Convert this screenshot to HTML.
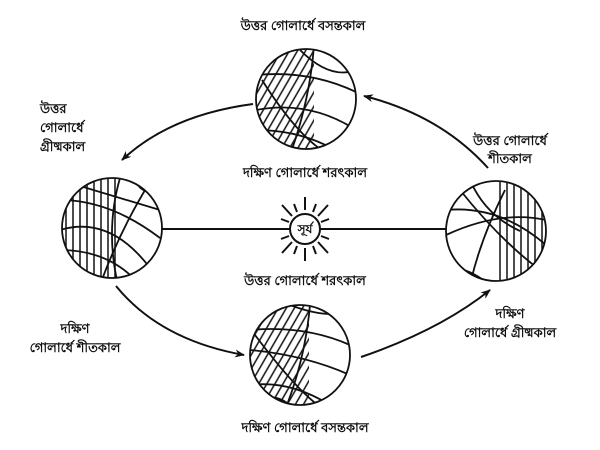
<!DOCTYPE html>
<html><head><meta charset="utf-8"><style>
html,body{margin:0;padding:0;background:#fff;width:600px;height:450px;overflow:hidden}
svg{display:block}
text{font-family:"Liberation Sans","Noto Sans CJK SC",sans-serif;font-size:13px;font-weight:bold;fill:#111}
</style></head><body>
<svg width="600" height="450" viewBox="0 0 600 450" xmlns="http://www.w3.org/2000/svg">
<defs>
<pattern id="vh" width="7" height="7" patternUnits="userSpaceOnUse"><line x1="3" y1="0" x2="3" y2="7" stroke="#111" stroke-width="1.5"/></pattern>
<pattern id="dh" width="7" height="7" patternUnits="userSpaceOnUse" patternTransform="rotate(30)"><line x1="3" y1="0" x2="3" y2="7" stroke="#111" stroke-width="1.5"/></pattern>
<clipPath id="cL"><circle cx="112" cy="228" r="50"/></clipPath>
<clipPath id="cR"><circle cx="496" cy="231" r="50"/></clipPath>
<clipPath id="cT"><circle cx="306" cy="99" r="50"/></clipPath>
<clipPath id="cB"><circle cx="300" cy="355" r="50"/></clipPath>
<marker id="ar" markerWidth="10" markerHeight="8" refX="9" refY="4" orient="auto" markerUnits="userSpaceOnUse"><path d="M0,0 L10,4 L0,8 L3,4z" fill="#111"/></marker>
</defs>
<g stroke="#111" stroke-width="2" fill="none">
<line x1="162" y1="229" x2="446" y2="229"/>
<circle cx="305" cy="229" r="15" fill="#fff"/>
<g stroke-width="2">
<line x1="305" y1="210" x2="305" y2="197"/><line x1="305" y1="248" x2="305" y2="261"/>
<line x1="286" y1="229" x2="274" y2="229"/><line x1="324" y1="229" x2="336" y2="229"/>
<line x1="318" y1="216" x2="328" y2="205"/><line x1="292" y1="216" x2="282" y2="205"/>
<line x1="318" y1="242" x2="328" y2="253"/><line x1="292" y1="242" x2="282" y2="253"/>
<line x1="297" y1="212" x2="294" y2="204"/><line x1="313" y1="212" x2="316" y2="204"/>
<line x1="297" y1="246" x2="294" y2="254"/><line x1="313" y1="246" x2="316" y2="254"/>
<line x1="289" y1="222" x2="281" y2="219"/><line x1="321" y1="222" x2="329" y2="219"/>
<line x1="289" y1="236" x2="281" y2="239"/><line x1="321" y1="236" x2="329" y2="239"/>
</g>
<path d="M253,104 Q170,115 122,160" marker-end="url(#ar)"/>
<path d="M488,168 Q440,115 364,96" marker-end="url(#ar)"/>
<path d="M116,286 Q160,340 244,355" marker-end="url(#ar)"/>
<path d="M361,357 Q440,330 490,290" marker-end="url(#ar)"/>
</g>
<g stroke="#111" stroke-width="1.8" fill="none">
<g clip-path="url(#cL)">
<rect x="60" y="175" width="60" height="110" fill="url(#vh)" stroke="none"/>
<path d="M160,210 Q110,195 60,180"/><path d="M160,238 Q110,200 60,200"/>
<path d="M150,268 Q110,215 60,230"/><path d="M60,250 Q110,250 140,285"/>
<path d="M120,178 Q105,230 118,285"/><path d="M150,182 Q120,230 100,285"/>
<path d="M140,175 Q130,190 160,195"/><path d="M70,285 Q90,270 110,285"/>
</g>
<circle cx="112" cy="228" r="50"/>
<g clip-path="url(#cR)">
<rect x="496" y="175" width="60" height="110" fill="url(#vh)" stroke="none"/>
<path d="M446,210 Q500,205 546,245"/><path d="M446,235 Q500,210 546,220"/>
<path d="M460,190 Q500,240 540,270"/><path d="M470,180 Q485,215 520,231"/>
<path d="M505,190 Q480,240 470,285"/><path d="M450,270 Q465,265 490,285"/>
</g>
<circle cx="496" cy="231" r="50"/>
<g clip-path="url(#cT)">
<rect x="250" y="45" width="64" height="110" fill="url(#dh)" stroke="none"/>
<path d="M314,45 Q310,100 290,155"/>
<path d="M256,75 Q310,70 356,92"/><path d="M256,110 Q310,100 356,130"/>
<path d="M262,80 Q300,140 330,155"/><path d="M256,130 Q300,130 335,150"/>
<path d="M300,50 Q330,80 356,70"/><path d="M270,148 Q285,140 300,155"/>
</g>
<circle cx="306" cy="99" r="50"/>
<g clip-path="url(#cB)">
<rect x="245" y="300" width="64" height="110" fill="url(#dh)" stroke="none"/>
<path d="M310,305 Q305,360 285,410"/>
<path d="M250,330 Q305,325 350,345"/><path d="M250,350 Q305,355 350,375"/>
<path d="M255,335 Q300,395 325,410"/><path d="M250,385 Q290,380 330,405"/>
<path d="M290,305 Q330,320 350,310"/><path d="M262,400 Q278,392 295,410"/>
</g>
<circle cx="300" cy="355" r="50"/>
</g>
<text x="303" y="30" text-anchor="middle">উত্তর গোলার্ধে বসন্তকাল</text>
<text x="305" y="177" text-anchor="middle">দক্ষিণ গোলার্ধে শরৎকাল</text>
<text x="40" y="113">উত্তর</text>
<text x="40" y="132">গোলার্ধে</text>
<text x="40" y="151">গ্রীষ্মকাল</text>
<text x="510" y="145" text-anchor="middle">উত্তর গোলার্ধে</text>
<text x="510" y="163" text-anchor="middle">শীতকাল</text>
<text x="305" y="233" text-anchor="middle" style="font-size:12px">সূর্য</text>
<text x="305" y="285" text-anchor="middle">উত্তর গোলার্ধে শরৎকাল</text>
<text x="75" y="333" text-anchor="middle">দক্ষিণ</text>
<text x="75" y="352" text-anchor="middle">গোলার্ধে শীতকাল</text>
<text x="510" y="318" text-anchor="middle">দক্ষিণ</text>
<text x="510" y="337" text-anchor="middle">গোলার্ধে গ্রীষ্মকাল</text>
<text x="305" y="432" text-anchor="middle">দক্ষিণ গোলার্ধে বসন্তকাল</text>
</svg>
</body></html>
